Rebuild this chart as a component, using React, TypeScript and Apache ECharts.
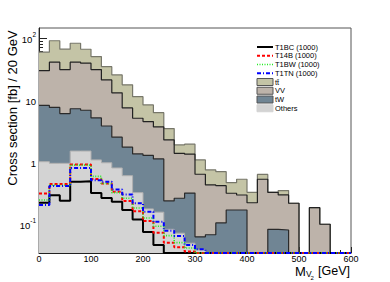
import React, { useEffect, useRef } from "react";
import * as echarts from "echarts";

// bin lower edges (GeV), 20 GeV bins
const binLow = [0, 20, 40, 60, 80, 100, 120, 140, 160, 180, 200, 220, 240, 260, 280, 300, 320, 340, 360, 380, 400, 420, 440, 460, 480, 500, 520, 540, 560, 580];
const xMaxEdge = 600;

// backgrounds (fb / 20 GeV), per process (not stacked)
const others = [1.01, 0.95, 0.95, 1.5, 1.5, 1.08, 0.97, 0.8, 0.6, 0.32, 0.175, 0.155, 0.082, 0.071, 0.049, 0.038, 0, 0, 0, 0, 0, 0, 0, 0, 0, 0, 0, 0, 0, 0];
const tW = [7.14, 6.62, 5.08, 5.71, 5.32, 4.04, 2.83, 1.71, 1.13, 1.03, 1.1, 0.965, 0.153, 0.189, 0.266, 0.024, 0.067, 0.104, 0.168, 0.168, 0, 0, 0.082, 0.08, 0, 0, 0, 0, 0, 0];
const VV = [21.5, 33.1, 24.9, 33.5, 32.3, 25.8, 17.2, 10.5, 5.7, 3.72, 3.2, 2.55, 2.03, 1.12, 1.02, 0.572, 0.36, 0.311, 0.145, 0.125, 0.22, 0.526, 0.242, 0.214, 0.216, 0, 0.183, 0.099, 0, 0];
const ttbar = [29.2, 49.3, 34.8, 41.3, 26.6, 19.1, 13.4, 12.3, 10.1, 6.23, 3.83, 2.57, 1.19, 0.5, 0.6, 0.446, 0.317, 0.283, 0.151, 0.233, 0.104, 0.104, 0, 0.051, 0, 0, 0, 0, 0, 0];

// signals
const T1BC = [0.22, 0.29, 0.236, 0.48, 0.49, 0.315, 0.263, 0.229, 0.168, 0.118, 0.074, 0.046, 0, 0, 0, 0, 0, 0, 0, 0, 0, 0, 0, 0, 0, 0, 0, 0, 0, 0];
const T14B = [0.31, 0.44, 0.44, 0.91, 0.91, 0.53, 0.45, 0.33, 0.235, 0.16, 0.112, 0.072, 0.05, 0.042, 0.036, 0, 0, 0, 0, 0, 0, 0, 0, 0, 0, 0, 0, 0, 0, 0];
const T1BW = [0.243, 0.42, 0.42, 0.89, 0.89, 0.585, 0.45, 0.32, 0.26, 0.181, 0.125, 0.092, 0.065, 0.05, 0.041, 0, 0, 0, 0, 0, 0, 0, 0, 0, 0, 0, 0, 0, 0, 0];
const T1TN = [0.203, 0.41, 0.41, 0.8, 0.8, 0.505, 0.48, 0.36, 0.3, 0.216, 0.158, 0.109, 0.078, 0.064, 0.046, 0.039, 0, 0, 0, 0, 0, 0, 0, 0, 0, 0, 0, 0, 0, 0];

const xTicks = [0, 100, 200, 300, 400, 500, 600];
const yDecades = [-1, 0, 1, 2];

const FONT = "'Liberation Sans', Arial, Helvetica, sans-serif";
const yMin = -1.468;
const yMax = 2.16;

const C_TT = "#c4c4a6";
const C_VV = "#bdb3aa";
const C_TW = "#708594";
const C_OT = "#d3d3d3";

function toLog(v: number) {
  return v > 0 ? Math.max(Math.log10(v), yMin) : yMin;
}
function stepData(vals: number[]) {
  const d: number[][] = binLow.map((x, i) => [x, toLog(vals[i])]);
  d.push([xMaxEdge, toLog(vals[vals.length - 1])]);
  return d;
}
function addArr(a: number[], b: number[]) {
  return a.map((v, i) => v + b[i]);
}

export default function App() {
  const ref = useRef<HTMLDivElement>(null);
  useEffect(() => {
    if (!ref.current) return;
    const chart = echarts.init(ref.current, undefined, { renderer: "svg" });

    const cumOT = others;
    const cumTW = addArr(cumOT, tW);
    const cumVV = addArr(cumTW, VV);
    const cumTT = addArr(cumVV, ttbar);

    const minorVals: number[] = [];
    for (let n = -2; n <= 2; n++) {
      for (let k = 2; k <= 9; k++) {
        const l = Math.log10(k * Math.pow(10, n));
        if (l > yMin && l < yMax) minorVals.push(l);
      }
    }

    const histo = (name: string, vals: number[], fill: string, line: string, lw: number) => ({
      name,
      type: "line",
      step: "end",
      data: stepData(vals),
      symbol: "none",
      showSymbol: false,
      clip: true,
      silent: true,
      lineStyle: { color: line, width: lw },
      areaStyle: { color: fill, opacity: 1, origin: "start" },
    });
    const sig = (name: string, vals: number[], color: string, type: any, w: number) => ({
      name,
      type: "line",
      step: "end",
      data: stepData(vals),
      symbol: "none",
      showSymbol: false,
      clip: true,
      silent: true,
      lineStyle: { color, width: w, type },
      z: 5,
    });

    const legendRows = [
      { label: "T1BC (1000)", kind: "line", color: "#000000", dash: "solid", w: 2 },
      { label: "T14B (1000)", kind: "line", color: "#ff0000", dash: [3, 2], w: 2 },
      { label: "T1BW (1000)", kind: "line", color: "#22ee22", dash: [1, 1.5], w: 1.6 },
      { label: "T1TN (1000)", kind: "line", color: "#0000ff", dash: [4, 2, 1, 2], w: 2 },
      { label: "tt\u0304", kind: "box", color: C_TT, border: "#555" },
      { label: "VV", kind: "box", color: C_VV, border: "#555" },
      { label: "tW", kind: "box", color: C_TW, border: "#555" },
      { label: "Others", kind: "box", color: C_OT, border: C_OT },
    ];
    const legendEls: any[] = [];
    legendRows.forEach((r: any, i) => {
      const cy = 47 + i * 8.75;
      if (r.kind === "line") {
        legendEls.push({
          type: "line",
          shape: { x1: 257, y1: cy, x2: 273, y2: cy },
          style: { stroke: r.color, lineWidth: r.w, lineDash: r.dash === "solid" ? null : r.dash },
          z: 100,
        });
      } else {
        legendEls.push({
          type: "rect",
          shape: { x: 257, y: cy - 3.5, width: 16, height: 7 },
          style: { fill: r.color, stroke: r.border, lineWidth: 1 },
          z: 100,
        });
      }
      legendEls.push({
        type: "text",
        x: 275,
        y: cy,
        style: { text: r.label, fontSize: 7.5, fontFamily: FONT, fill: "#000", textAlign: "left", textVerticalAlign: "middle" },
        z: 100,
      });
    });

    const option: any = {
      animation: false,
      backgroundColor: "#ffffff",
      grid: { left: 39, top: 28, width: 312, height: 225, show: true, borderColor: "#555", borderWidth: 1, backgroundColor: "transparent" },
      xAxis: {
        type: "value",
        min: 0,
        max: 600,
        interval: 100,
        axisLine: { show: true, onZero: false, lineStyle: { color: "#222", width: 1 } },
        axisTick: { show: true, inside: true, length: 6, lineStyle: { color: "#222" } },
        minorTick: { show: true, splitNumber: 5, length: 3, lineStyle: { color: "#222" } },
        splitLine: { show: false },
        minorSplitLine: { show: false },
        axisLabel: {
          show: true,
          margin: 1,
          fontSize: 9,
          lineHeight: 10,
          fontFamily: FONT,
          color: "#000",
          customValues: xTicks,
          formatter: (v: number) => String(v),
        },
      },
      yAxis: [
        {
          type: "value",
          min: yMin,
          max: yMax,
          axisLine: { show: true, onZero: false, lineStyle: { color: "#222", width: 1 } },
          axisTick: { show: true, inside: true, length: 8, customValues: yDecades, lineStyle: { color: "#222" } },
          splitLine: { show: false },
          axisLabel: {
            show: true,
            margin: 3,
            customValues: yDecades,
            formatter: (v: number) => {
              const r = Math.round(v);
              if (r === 0) return "{b|1}";
              if (r === 1) return "{b|10}";
              return "{b|10}{s|" + r + "}";
            },
            rich: {
              b: { fontSize: 9.5, fontFamily: FONT, color: "#000", lineHeight: 13, verticalAlign: "bottom" },
              s: { fontSize: 6.5, fontFamily: FONT, color: "#000", lineHeight: 7, verticalAlign: "top" },
            },
          },
        },
        {
          type: "value",
          min: yMin,
          max: yMax,
          position: "left",
          axisLine: { show: false, onZero: false },
          axisTick: { show: true, inside: true, length: 4, customValues: minorVals, lineStyle: { color: "#222" } },
          splitLine: { show: false },
          axisLabel: { show: false },
        },
      ],
      series: [
        histo("tt", cumTT, C_TT, "#77776a", 1.2),
        histo("VV", cumVV, C_VV, "#222", 1.2),
        histo("tW", cumTW, C_TW, "#2a2a2a", 1.2),
        histo("Others", cumOT, C_OT, "#b0b0b0", 1),
        sig("T1BC", T1BC, "#000000", "solid", 2),
        sig("T14B", T14B, "#ff0000", [3, 2], 2),
        sig("T1BW", T1BW, "#22ee22", [1, 1.5], 1.6),
        sig("T1TN", T1TN, "#0000ff", [4, 2, 1, 2], 2),
      ],
      graphic: [
        ...legendEls,
        {
          type: "text",
          x: 12,
          y: 108,
          rotation: Math.PI / 2,
          style: { text: "Cross section [fb] / 20 GeV", fontSize: 13, fontFamily: FONT, fill: "#000", textAlign: "center", textVerticalAlign: "middle" },
          z: 100,
        },
        { type: "text", x: 295, y: 271, style: { text: "M", fontSize: 13, fontFamily: FONT, fill: "#000", textAlign: "left", textVerticalAlign: "middle" }, z: 100 },
        { type: "text", x: 306, y: 273.5, style: { text: "V", fontSize: 8.5, fontFamily: FONT, fill: "#000", textAlign: "left", textVerticalAlign: "middle" }, z: 100 },
        { type: "text", x: 310.5, y: 277.5, style: { text: "2", fontSize: 6, fontFamily: FONT, fill: "#000", textAlign: "left", textVerticalAlign: "middle" }, z: 100 },
        { type: "text", x: 318, y: 271, style: { text: "[GeV]", fontSize: 12.5, fontFamily: FONT, fill: "#000", textAlign: "left", textVerticalAlign: "middle" }, z: 100 },
      ],
    };
    chart.setOption(option);
    return () => chart.dispose();
  }, []);
  return <div ref={ref} style={{ position: "fixed", left: 0, top: 0, width: 390, height: 282, background: "#fff" }} />;
}
